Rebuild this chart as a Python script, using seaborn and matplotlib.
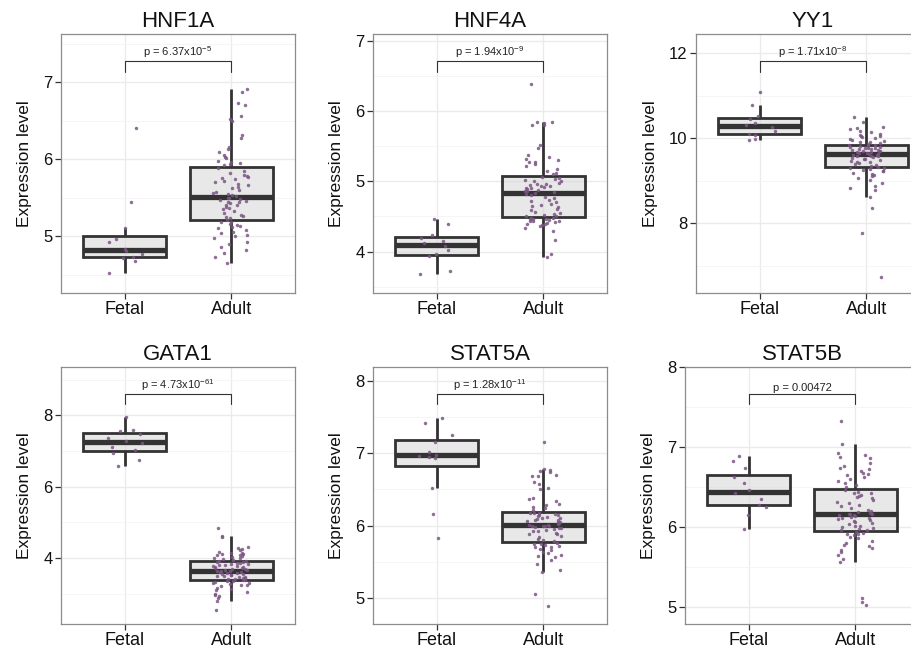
import numpy as np
import pandas as pd
import matplotlib
matplotlib.use("Agg")
import matplotlib.pyplot as plt
import matplotlib.transforms as mtransforms
from matplotlib.ticker import FixedLocator
import seaborn as sns

sns.set_style("whitegrid")
plt.rcParams['font.family'] = ['Liberation Sans', 'DejaVu Sans']
plt.rcParams['mathtext.fontset'] = 'custom'
plt.rcParams['mathtext.rm'] = 'Liberation Sans'
plt.rcParams['mathtext.default'] = 'regular'
plt.rcParams['text.color'] = '#111111'
plt.rcParams['axes.labelcolor'] = '#111111'

groups = ["Fetal", "Adult"]
genes = ["HNF1A", "HNF4A", "YY1", "GATA1", "STAT5A", "STAT5B"]
p_labels = ["p = 6.37x10$^{-5}$", "p = 1.94x10$^{-9}$", "p = 1.71x10$^{-8}$",
            "p = 4.73x10$^{-61}$", "p = 1.28x10$^{-11}$", "p = 0.00472"]

hnf1a_fetal = [4.52, 4.68, 4.72, 4.73, 4.77, 4.81, 4.83, 4.93, 4.96, 5.11, 5.44, 6.41]
hnf1a_adult = [4.65, 4.73, 4.78, 4.82, 4.86, 4.90, 4.93, 4.97, 5.00, 5.02, 5.04, 5.06, 5.08, 5.10, 5.12, 5.13, 5.15, 5.16, 5.18, 5.19,
               5.21, 5.23, 5.25, 5.26, 5.28, 5.30, 5.33, 5.35, 5.36, 5.38, 5.40, 5.41, 5.43, 5.44, 5.45, 5.46, 5.47, 5.48, 5.49, 5.50,
               5.52, 5.54, 5.55, 5.56, 5.58, 5.60, 5.62, 5.64, 5.66, 5.68, 5.70, 5.72, 5.74, 5.76, 5.77, 5.78, 5.80, 5.82, 5.85, 5.89,
               5.93, 5.94, 5.95, 5.96, 5.98, 6.02, 6.03, 6.05, 6.10, 6.13, 6.16, 6.28, 6.31, 6.50, 6.53, 6.56, 6.70, 6.73, 6.87, 6.92]

hnf4a_fetal = [3.68, 3.72, 3.94, 3.96, 4.02, 4.08, 4.12, 4.15, 4.19, 4.24, 4.40, 4.46]
hnf4a_adult = [3.92, 3.97, 4.16, 4.30, 4.33, 4.36, 4.38, 4.39, 4.40, 4.41, 4.42, 4.43, 4.44, 4.44, 4.45, 4.46, 4.46, 4.47, 4.48, 4.48,
               4.50, 4.51, 4.52, 4.54, 4.55, 4.57, 4.59, 4.61, 4.63, 4.65, 4.66, 4.68, 4.70, 4.72, 4.74, 4.76, 4.78, 4.80, 4.82, 4.83,
               4.85, 4.86, 4.87, 4.88, 4.89, 4.90, 4.91, 4.92, 4.93, 4.94, 4.95, 4.96, 4.97, 4.98, 5.00, 5.01, 5.02, 5.04, 5.05, 5.06,
               5.10, 5.12, 5.15, 5.18, 5.22, 5.25, 5.27, 5.28, 5.30, 5.32, 5.35, 5.37, 5.48, 5.52, 5.80, 5.81, 5.83, 5.84, 5.84, 6.39]

yy1_fetal = [9.96, 9.99, 10.07, 10.10, 10.18, 10.26, 10.30, 10.36, 10.46, 10.52, 10.77, 11.09]
yy1_adult = [6.74, 7.77, 8.36, 8.61, 8.78, 8.82, 8.88, 8.95, 9.02, 9.06, 9.10, 9.13, 9.16, 9.19, 9.22, 9.24, 9.26, 9.28, 9.30, 9.31,
             9.33, 9.35, 9.37, 9.39, 9.41, 9.43, 9.45, 9.47, 9.49, 9.50, 9.52, 9.54, 9.55, 9.57, 9.58, 9.59, 9.60, 9.61, 9.62, 9.63,
             9.65, 9.66, 9.67, 9.68, 9.69, 9.70, 9.71, 9.72, 9.73, 9.74, 9.75, 9.76, 9.77, 9.78, 9.79, 9.80, 9.81, 9.82, 9.83, 9.83,
             9.87, 9.89, 9.90, 9.92, 9.94, 9.96, 9.98, 10.00, 10.02, 10.04, 10.06, 10.08, 10.10, 10.14, 10.18, 10.22, 10.24, 10.26, 10.38, 10.50]

gata1_fetal = [6.58, 6.75, 6.95, 7.02, 7.12, 7.22, 7.28, 7.35, 7.48, 7.55, 7.60, 7.96]
gata1_adult = [2.55, 2.81, 2.90, 2.93, 2.96, 3.00, 3.05, 3.10, 3.14, 3.18, 3.21, 3.24, 3.26, 3.28, 3.30, 3.32, 3.34, 3.35, 3.37, 3.38,
               3.40, 3.41, 3.42, 3.44, 3.45, 3.47, 3.48, 3.50, 3.51, 3.53, 3.54, 3.56, 3.57, 3.58, 3.60, 3.61, 3.62, 3.63, 3.64, 3.64,
               3.66, 3.67, 3.69, 3.70, 3.72, 3.73, 3.75, 3.76, 3.78, 3.79, 3.80, 3.82, 3.83, 3.85, 3.86, 3.88, 3.89, 3.90, 3.91, 3.92,
               3.96, 3.98, 4.00, 4.02, 4.04, 4.06, 4.08, 4.10, 4.11, 4.12, 4.14, 4.16, 4.18, 4.22, 4.26, 4.30, 4.32, 4.58, 4.61, 4.85]

stat5a_fetal = [5.83, 6.16, 6.52, 6.93, 6.95, 6.96, 6.98, 7.01, 7.16, 7.25, 7.42, 7.48]
stat5a_adult = [4.89, 5.05, 5.36, 5.38, 5.47, 5.52, 5.56, 5.58, 5.60, 5.62, 5.64, 5.66, 5.68, 5.70, 5.71, 5.72, 5.73, 5.74, 5.75, 5.76,
                5.78, 5.80, 5.82, 5.84, 5.86, 5.88, 5.89, 5.90, 5.92, 5.93, 5.94, 5.95, 5.96, 5.97, 5.98, 5.99, 6.00, 6.00, 6.00, 6.01,
                6.01, 6.02, 6.03, 6.04, 6.05, 6.05, 6.06, 6.07, 6.08, 6.09, 6.10, 6.11, 6.12, 6.13, 6.14, 6.15, 6.16, 6.17, 6.18, 6.18,
                6.22, 6.24, 6.26, 6.28, 6.30, 6.34, 6.36, 6.38, 6.50, 6.52, 6.58, 6.60, 6.68, 6.69, 6.70, 6.74, 6.76, 6.77, 6.78, 7.15]

stat5b_fetal = [5.98, 6.15, 6.25, 6.28, 6.35, 6.42, 6.46, 6.55, 6.62, 6.74, 6.82, 6.89]
stat5b_adult = [5.03, 5.07, 5.12, 5.56, 5.60, 5.65, 5.69, 5.72, 5.74, 5.76, 5.78, 5.80, 5.83, 5.86, 5.88, 5.90, 5.91, 5.92, 5.93, 5.94,
                5.96, 5.97, 5.98, 5.99, 6.00, 6.01, 6.02, 6.04, 6.05, 6.06, 6.08, 6.09, 6.10, 6.11, 6.12, 6.13, 6.14, 6.15, 6.15, 6.16,
                6.16, 6.17, 6.18, 6.19, 6.20, 6.22, 6.24, 6.26, 6.28, 6.30, 6.32, 6.34, 6.36, 6.38, 6.39, 6.40, 6.42, 6.43, 6.44, 6.46,
                6.50, 6.52, 6.55, 6.58, 6.60, 6.62, 6.65, 6.66, 6.68, 6.70, 6.72, 6.74, 6.76, 6.80, 6.86, 6.88, 6.90, 6.92, 7.04, 7.33]

fetal_values = [hnf1a_fetal, hnf4a_fetal, yy1_fetal, gata1_fetal, stat5a_fetal, stat5b_fetal]
adult_values = [hnf1a_adult, hnf4a_adult, yy1_adult, gata1_adult, stat5a_adult, stat5b_adult]

# panel layout in pixels: left, top, width, height ; y range ; major ticks
W, H = 912, 652
panels = [
    ((61, 34, 234, 259), (4.26, 7.63), [5, 6, 7]),
    ((373, 34, 234, 259), (3.41, 7.10), [4, 5, 6, 7]),
    ((696, 34, 234, 259), (6.36, 12.45), [8, 10, 12]),
    ((61, 367, 234, 257), (2.16, 9.35), [4, 6, 8]),
    ((373, 367, 234, 257), (4.64, 8.19), [5, 6, 7, 8]),
    ((685, 367, 234, 257), (4.79, 8.00), [5, 6, 7, 8]),
]

point_color = "#7B5584"
line_color = "#333333"

np.random.seed(7)
fig = plt.figure(figsize=(W / 100, H / 100), dpi=100)

for gene, plab, fetal, adult, (box, ylim, ticks) in zip(genes, p_labels, fetal_values, adult_values, panels):
    left, top, width, height = box
    ax = fig.add_axes([left / W, 1 - (top + height) / H, width / W, height / H])
    df = pd.DataFrame({
        "group": ["Fetal"] * len(fetal) + ["Adult"] * len(adult),
        "value": fetal + adult,
    })
    sns.stripplot(data=df, x="group", y="value", order=groups, jitter=0.17,
                  color=point_color, size=2.5, alpha=0.85, linewidth=0, ax=ax)
    sns.boxplot(data=df, x="group", y="value", order=groups, width=0.78,
                color="#D6D6D6", linecolor=line_color, linewidth=2.0,
                showfliers=False, showcaps=False,
                medianprops=dict(linewidth=3.8, color=line_color), ax=ax)
    for patch in ax.patches:
        patch.set_facecolor((0.84, 0.84, 0.84, 0.55))

    ax.set_xlim(-0.6, 1.6)
    ax.set_ylim(*ylim)
    ax.yaxis.set_major_locator(FixedLocator(ticks))
    step = ticks[1] - ticks[0]
    minors = np.arange(ticks[0] - step / 2, ylim[1], step)
    ax.yaxis.set_minor_locator(FixedLocator(list(minors)))
    ax.grid(which="major", color="#EBEBEB", linewidth=1.0)
    ax.grid(which="minor", axis="y", color="#F4F4F4", linewidth=0.6)
    ax.set_axisbelow(True)
    for sp in ax.spines.values():
        sp.set_color("#8C8C8C")
        sp.set_linewidth(0.9)
    ax.tick_params(axis="both", which="major", length=4, width=0.9, color="#333333",
                   bottom=True, left=True)
    ax.tick_params(axis="y", which="minor", length=0)
    ax.tick_params(axis="y", labelsize=12, pad=2, labelcolor="#111111")
    ax.tick_params(axis="x", labelsize=13, pad=2, labelcolor="#111111")
    ax.set_xlabel("")
    ax.set_ylabel("Expression level", fontsize=12.5, labelpad=8)
    ax.set_title(gene, fontsize=16, pad=5, color="#111111")

    # significance bracket
    trans = mtransforms.blended_transform_factory(ax.transData, ax.transAxes)
    ax.plot([0, 0, 1, 1], [0.855, 0.895, 0.895, 0.855], color="#333333",
            linewidth=0.8, transform=trans, clip_on=False)
    ax.text(0.5, 0.9, plab, transform=trans, ha="center", va="bottom",
            fontsize=8, color="#222222")

fig.savefig("out.png", dpi=100)
